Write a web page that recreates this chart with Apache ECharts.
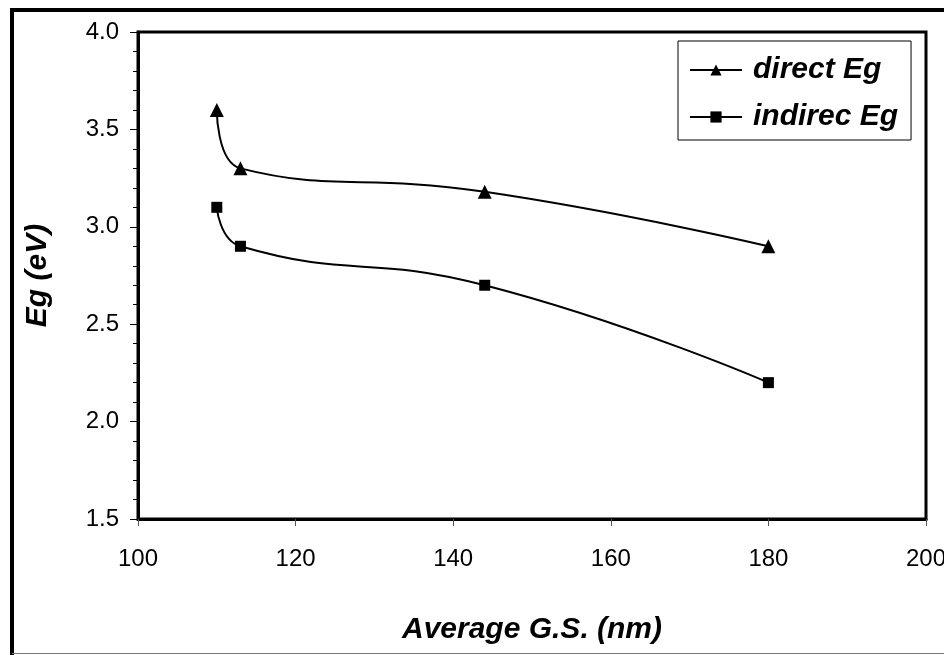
<!DOCTYPE html>
<html>
<head>
<meta charset="utf-8">
<script src="https://cdn.jsdelivr.net/npm/echarts@6/dist/echarts.min.js"></script>
<style>
  html, body { margin: 0; padding: 0; background: #fff; }
  #chart { width: 944px; height: 655px; }
</style>
</head>
<body>
<div id="chart"></div>
<script>
const grainSize = [110, 113, 144, 180];
const directEg = [3.6, 3.3, 3.18, 2.9];
const indirectEg = [3.1, 2.9, 2.7, 2.2];
const seriesNames = ['direct Eg', 'indirec Eg'];

const myChart = echarts.init(document.getElementById('chart'));

const pairs = (xs, ys) => xs.map((x, i) => [x, ys[i]]);
const font = '"Liberation Sans", Arial, sans-serif';

const option = {
  backgroundColor: '#fff',
  animation: false,
  textStyle: { fontFamily: font },
  grid: {
    left: 138, top: 32, right: 18, bottom: 136,
    outerBoundsMode: 'none',
    containLabel: false,
    show: true, borderColor: '#000', borderWidth: 3
  },
  legend: {
    left: 678, top: 41,
    orient: 'vertical',
    padding: [14, 13, 8, 11],
    itemGap: 17,
    itemWidth: 52, itemHeight: 14,
    borderColor: '#000', borderWidth: 1,
    textStyle: {
      fontFamily: font, fontSize: 30, fontWeight: 'bold', fontStyle: 'italic',
      color: '#000', padding: [0, 0, 0, 6]
    },
    data: seriesNames
  },
  xAxis: {
    type: 'value',
    min: 100, max: 200, interval: 20,
    name: 'Average G.S. (nm)',
    nameLocation: 'middle', nameGap: 96,
    nameTextStyle: { fontSize: 30, fontWeight: 'bold', fontStyle: 'italic', color: '#000' },
    axisLine: { show: true, lineStyle: { color: '#000', width: 3 } },
    axisTick: { show: true, length: 7, lineStyle: { color: '#555', width: 1 } },
    axisLabel: { fontSize: 24, color: '#000', margin: 28 },
    splitLine: { show: false }
  },
  yAxis: {
    type: 'value',
    min: 1.5, max: 4.0, interval: 0.5,
    name: 'Eg (eV)',
    nameLocation: 'middle', nameGap: 85,
    nameTextStyle: { fontSize: 30, fontWeight: 'bold', fontStyle: 'italic', color: '#000' },
    axisLine: { show: true, lineStyle: { color: '#000', width: 3 } },
    axisTick: { show: true, length: 8, lineStyle: { color: '#000', width: 1 } },
    minorTick: { show: true, splitNumber: 5, length: 5, lineStyle: { color: '#000', width: 1 } },
    axisLabel: {
      fontSize: 24, color: '#000', margin: 19,
      formatter: v => v.toFixed(1)
    },
    splitLine: { show: false }
  },
  graphic: [
    {
      type: 'polyline',
      shape: { points: [[12, 655], [12, 10], [944, 10]] },
      style: { stroke: '#000', lineWidth: 4, fill: null },
      silent: true
    },
    {
      type: 'line',
      shape: { x1: 12, y1: 653.5, x2: 944, y2: 653.5 },
      style: { stroke: '#777', lineWidth: 1 },
      silent: true
    }
  ],
  series: [
    {
      name: seriesNames[0],
      type: 'line',
      smooth: 0.5,
      data: pairs(grainSize, directEg),
      symbol: 'triangle', symbolSize: 14,
      itemStyle: { color: '#000' },
      lineStyle: { color: '#000', width: 2 }
    },
    {
      name: seriesNames[1],
      type: 'line',
      smooth: 0.5,
      data: pairs(grainSize, indirectEg),
      symbol: 'rect', symbolSize: 11,
      itemStyle: { color: '#000' },
      lineStyle: { color: '#000', width: 2 }
    }
  ]
};

myChart.setOption(option);
</script>
</body>
</html>
